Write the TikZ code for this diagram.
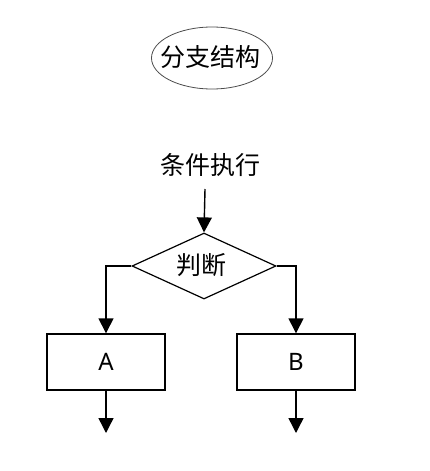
\documentclass[tikz,border=0pt]{standalone}
\usepackage{fontspec}
\newfontfamily\cjk{Noto Sans CJK SC}
\newfontfamily\latn{Noto Sans}
\usetikzlibrary{shapes.geometric,arrows.meta}
\begin{document}
\begin{tikzpicture}[x=1pt,y=-1pt,
  line/.style={line width=1.4pt,-{Triangle[length=15pt,width=15pt]}},
  procbox/.style={draw,line width=1.4pt,minimum width=118pt,minimum height=56pt,inner sep=0pt,font=\latn\fontsize{24}{28}\selectfont},
  decide/.style={draw,line width=1.2pt,diamond,minimum width=144pt,minimum height=66pt,inner sep=0pt,aspect=2.2,font=\cjk\fontsize{24}{28}\selectfont}]
\useasboundingbox (0,0) rectangle (429,471);
\node[font=\cjk\fontsize{25}{28}\selectfont,inner sep=0pt] (title) at (210,57) {分支结构};
\draw[black!70,line width=0.8pt] (212,58) ellipse [x radius=60.5pt,y radius=31pt];
\node[font=\cjk\fontsize{25}{28}\selectfont,inner sep=0pt] (cond) at (210,165) {条件执行};
\coordinate (condb) at (205,189);
\node[decide] (dec) at (204,266) {};
\node[font=\cjk\fontsize{25}{28}\selectfont,inner sep=0pt] (declabel) at (201,265) {判断};
\node[procbox] (A) at (106,362) {A};
\node[procbox] (B) at (296,362) {B};
\coordinate (Aout) at (106,433);
\coordinate (Bout) at (296,433);
\draw[line] (condb) -- (dec.north);
\draw[line] (dec.west) -| (A.north);
\draw[line] (dec.east) -| (B.north);
\draw[line] (A.south) -- (Aout);
\draw[line] (B.south) -- (Bout);
\end{tikzpicture}
\end{document}
